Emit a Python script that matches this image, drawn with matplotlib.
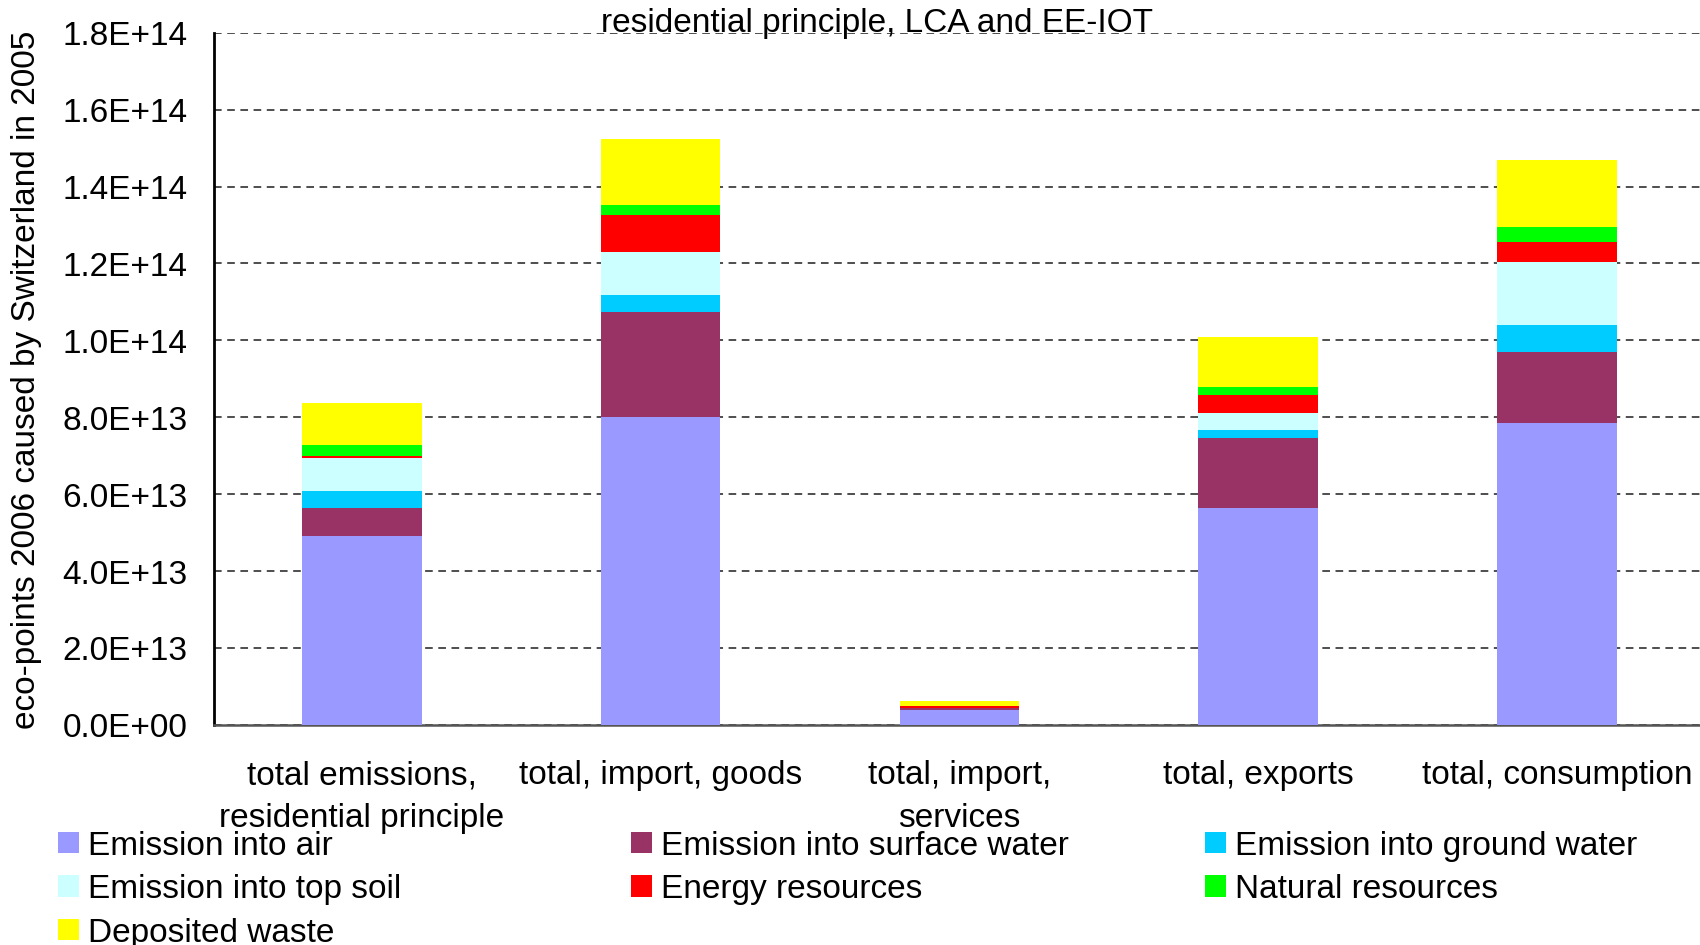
import matplotlib
matplotlib.use("Agg")
import matplotlib.pyplot as plt
from matplotlib.ticker import FuncFormatter, MultipleLocator
import numpy as np

plt.rcParams['font.family'] = ['Liberation Sans', 'DejaVu Sans']
plt.rcParams['lines.scale_dashes'] = False

# Categories and stacked impact components (eco-points)
categories = [
    "total emissions,\nresidential principle",
    "total, import, goods",
    "total, import,\nservices",
    "total, exports",
    "total, consumption",
]
series_names = [
    "Emission into air",
    "Emission into surface water",
    "Emission into ground water",
    "Emission into top soil",
    "Energy resources",
    "Natural resources",
    "Deposited waste",
]
emission_air = [4.90e13, 8.02e13, 0.38e13, 5.65e13, 7.86e13]
emission_surface_water = [0.75e13, 2.73e13, 0.05e13, 1.80e13, 1.85e13]
emission_ground_water = [0.42e13, 0.44e13, 0.01e13, 0.21e13, 0.68e13]
emission_top_soil = [0.88e13, 1.12e13, 0.01e13, 0.44e13, 1.66e13]
energy_resources = [0.04e13, 0.94e13, 0.03e13, 0.49e13, 0.52e13]
natural_resources = [0.30e13, 0.26e13, 0.02e13, 0.19e13, 0.39e13]
deposited_waste = [1.07e13, 1.74e13, 0.11e13, 1.30e13, 1.72e13]

series_values = [emission_air, emission_surface_water, emission_ground_water,
                 emission_top_soil, energy_resources, natural_resources,
                 deposited_waste]
series_colors = ["#9999FF", "#993366", "#00CCFF", "#CCFFFF",
                 "#FF0000", "#00FF00", "#FFFF00"]

FS = 24

fig = plt.figure(figsize=(17, 9.455), dpi=100)
ax = fig.add_axes([0.1256, 0.2328, 1 - 0.1256, 0.9648 - 0.2328])

x = np.arange(len(categories))
bottom = np.zeros(len(categories))
bars = []
for name, vals, col in zip(series_names, series_values, series_colors):
    b = ax.bar(x, vals, width=0.40, bottom=bottom, color=col, label=name,
               linewidth=0, zorder=3)
    bars.append(b)
    bottom += np.array(vals)

ax.set_xlim(-0.497, 4.479)
ax.set_ylim(0, 1.8e14)
ax.yaxis.set_major_locator(MultipleLocator(2e13))
ax.yaxis.set_major_formatter(FuncFormatter(lambda v, p: f"{v:.1E}"))

ax.set_xticks(x)
ax.set_xticklabels(categories, fontsize=FS, linespacing=1.5)
ax.tick_params(axis='x', length=0, pad=25)
ax.tick_params(axis='y', length=0, pad=19, labelsize=FS)

ax.grid(axis='y', color='#404040', linewidth=1.3, linestyle=(0, (5.5, 4)),
        zorder=1)
ax.set_axisbelow(True)

for s in ('top', 'right'):
    ax.spines[s].set_visible(False)
ax.spines['left'].set_color('black')
ax.spines['left'].set_linewidth(2.0)
ax.spines['bottom'].set_color('#555555')
ax.spines['bottom'].set_linewidth(1.8)

# Vertical axis title, centred on the plot area
fig.text(27 / 1700, 1 - 379.5 / 945,
         "eco-points 2006 caused by Switzerland in 2005",
         rotation=90, ha='center', va='center', fontsize=FS)

fig.text(877 / 1700, 1 - 31.5 / 945, "residential principle, LCA and EE-IOT",
         ha='center', va='baseline', fontsize=FS)

# Legend laid out in three columns, filled row by row
columns = [[0, 3, 6], [1, 4], [2, 5]]
col_x = [58, 631, 1205]
for idxs, cx in zip(columns, col_x):
    fig.legend([bars[i] for i in idxs], [series_names[i] for i in idxs],
               loc='upper left', bbox_to_anchor=(cx / 1700, 0.1215),
               frameon=False, fontsize=FS, borderpad=0, borderaxespad=0,
               handlelength=0.62, handleheight=0.62, handletextpad=0.28,
               labelspacing=0.375)

fig.savefig("out.png", dpi=100)
